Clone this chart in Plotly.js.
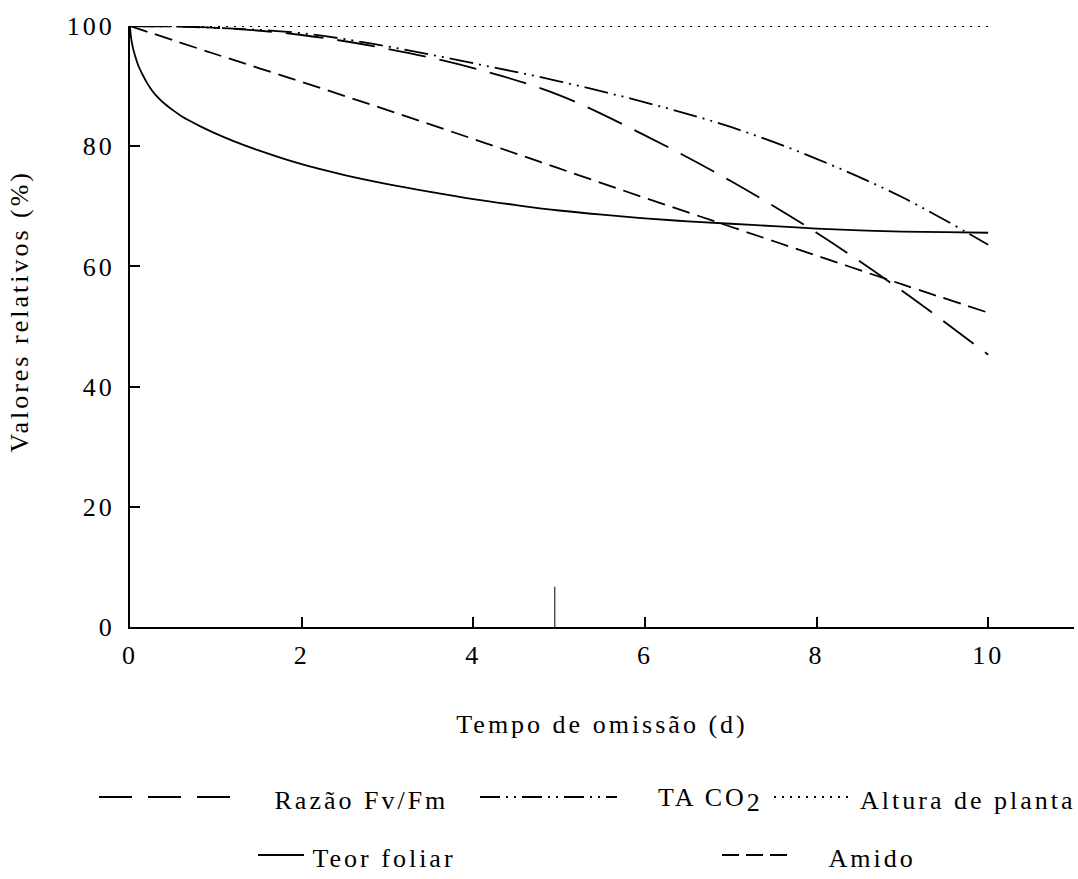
<!DOCTYPE html>
<html>
<head>
<meta charset="utf-8">
<script src="https://cdn.plot.ly/plotly-3.0.1.min.js"></script>
<style>
  body { margin: 0; background: #fff; }
  #chart { width: 1078px; height: 879px; }
  .main-svg text { letter-spacing: 3px; font-family: 'Liberation Serif', 'Times New Roman', serif !important; }
</style>
</head>
<body>
<div id="chart"></div>
<script>
// ---- Data ----
const days = [0, 1, 2, 3, 4, 5, 6, 7, 8, 9, 10];
const fvfm = [100, 99.7, 98.5, 96.2, 93.0, 88.5, 81.8, 74.2, 65.6, 55.9, 45.3];
const taco2 = [100, 99.7, 98.8, 96.6, 93.8, 90.8, 87.3, 83.2, 77.9, 71.5, 63.6];
const altura = [100, 100, 100, 100, 100, 100, 100, 100, 100, 100, 100];
const amido = [100, 95.3, 90.7, 86.0, 81.2, 76.3, 71.4, 66.6, 61.8, 57.0, 52.3];
const teorDays = [0, 0.01, 0.03, 0.06, 0.1, 0.15, 0.2, 0.25, 0.3, 0.4, 0.5, 0.6, 0.7, 0.82, 1.0, 1.2, 1.5, 2, 2.5, 3, 3.5, 4, 4.5, 5, 5.5, 6, 6.5, 7, 7.5, 8, 8.5, 9, 9.5, 10];
const teor = [100, 98.3, 96.6, 95.0, 93.3, 91.8, 90.5, 89.4, 88.5, 87.1, 86.0, 85.0, 84.2, 83.3, 82.1, 80.9, 79.3, 77.0, 75.2, 73.7, 72.4, 71.2, 70.2, 69.3, 68.6, 68.0, 67.5, 67.1, 66.7, 66.3, 66.0, 65.8, 65.7, 65.6];
const markX = [4.95, 4.95];
const markY = [0, 6.7];

const seriesNames = ["Razão Fv/Fm", "TA CO<sub><span style=\"font-size:26px\">2</span></sub>", "Altura de planta", "Teor foliar", "Amido"];
const nameLengths = [11, 6, 16, 11, 5];
const xTicks = [0, 2, 4, 6, 8, 10];
const yTicks = [0, 20, 40, 60, 80, 100];
const xTitle = 'Tempo de omissão (d)';
const yTitle = 'Valores relativos (%)';

// ---- Styles ----
const FONT = 'Liberation Serif';
const FS = 26;
const dashFv = "38px,14px";
const dashTA = "24px,6px,2px,6px,2px,6px";
const dashAlt = "2px,6px";
const dashAm = "18px,8px";

const lw = 1.8;
const traces = [
  {x: days, y: fvfm, mode: 'lines', line: {color: '#000', width: lw, dash: dashFv, shape: 'spline'}, name: seriesNames[0], showlegend: false},
  {x: days, y: taco2, mode: 'lines', line: {color: '#000', width: lw, dash: dashTA, shape: 'spline'}, name: seriesNames[1], showlegend: false},
  {x: days, y: altura, mode: 'lines', line: {color: '#000', width: lw, dash: dashAlt}, name: seriesNames[2], showlegend: false},
  {x: teorDays, y: teor, mode: 'lines', line: {color: '#000', width: lw, shape: 'spline', smoothing: 1}, name: seriesNames[3], showlegend: false},
  {x: days, y: amido, mode: 'lines', line: {color: '#000', width: lw, dash: dashAm, shape: 'spline'}, name: seriesNames[4], showlegend: false},
  {x: markX, y: markY, mode: 'lines', line: {color: '#000', width: 1}, showlegend: false, hoverinfo: 'skip'}
];

// ---- Manual legend (pixel -> paper helpers) ----
const PL = 130, PW = 944, PB = 627, PH = 601;
const px = v => (v - PL) / PW;
const py = v => (PB - v) / PH;

const legendItems = [
  {x0: 99, x1: 231, y: 797, dash: "33px,16px", tx: 272},
  {x0: 480, x1: 617, y: 797, dash: "20px,6px,2px,6px,2px,6px", tx: 656},
  {x0: 774, x1: 848, y: 797, dash: "2px,6px", tx: 858},
  {x0: 258, x1: 304, y: 855, dash: 'solid', tx: 310},
  {x0: 722, x1: 790, y: 855, dash: "17px,7px", tx: 826}
];

const shapes = legendItems.map(it => ({
  type: 'line', xref: 'paper', yref: 'paper',
  x0: px(it.x0), x1: px(it.x1), y0: py(it.y), y1: py(it.y),
  line: {color: '#000', width: 1.8, dash: it.dash}
}));
const annotations = legendItems.map((it, i) => ({
  xref: 'paper', yref: 'paper', x: px(it.tx + 1.5 * nameLengths[i]), y: py(it.y + 3),
  xanchor: 'left', yanchor: 'middle', showarrow: false,
  text: seriesNames[i], font: {family: FONT, size: FS, color: '#000'}
}));
annotations.push({
  xref: 'paper', yref: 'paper', x: px(19), y: py(312),
  xanchor: 'center', yanchor: 'middle', showarrow: false, textangle: -90,
  text: yTitle, font: {family: FONT, size: FS, color: '#000'}
});

const layout = {
  width: 1078, height: 879,
  margin: {l: 130, r: 4, t: 26, b: 252},
  paper_bgcolor: '#fff', plot_bgcolor: '#fff',
  font: {family: FONT, size: FS, color: '#000'},
  showlegend: false,
  xaxis: {
    range: [0, 11], tickvals: xTicks, ticktext: xTicks.map(String),
    ticks: 'inside', ticklen: 10, tickwidth: 2, tickcolor: '#000',
    showline: true, linecolor: '#000', linewidth: 2,
    showgrid: false, zeroline: false, mirror: false,
    tickfont: {family: FONT, size: FS, color: '#000'},
    ticklabelstandoff: 4,
    title: {text: xTitle, font: {family: FONT, size: FS, color: '#000'}, standoff: 46},
    automargin: false
  },
  yaxis: {
    range: [0, 100], tickvals: yTicks, ticktext: yTicks.map(String),
    ticks: 'inside', ticklen: 10, tickwidth: 2, tickcolor: '#000',
    showline: true, linecolor: '#000', linewidth: 2,
    showgrid: false, zeroline: false, mirror: false,
    tickfont: {family: FONT, size: FS, color: '#000'},
    ticklabelstandoff: 8,
    automargin: false
  },
  shapes: shapes,
  annotations: annotations
};

Plotly.newPlot('chart', traces, layout, {staticPlot: true, displayModeBar: false});
</script>
</body>
</html>
